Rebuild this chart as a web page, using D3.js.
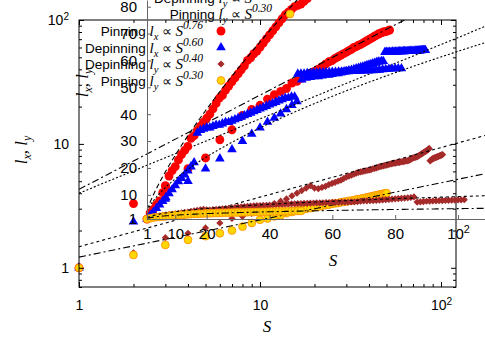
<!DOCTYPE html>
<html>
<head>
<meta charset="utf-8">
<script src="https://cdn.jsdelivr.net/npm/d3@7"></script>
<style>
body { margin: 0; background: #fff; }
svg { display: block; }
</style>
</head>
<body>
<svg width="485" height="339"></svg>
<script>
// avalanche size S runs 1, 2, 3, ... in every series
var pinLx = [1, 3.3, 4.6, 6.3, 7.7, 10.8, 13, 17, 19, 20.5,
             23, 25, 26.5, 28, 31, 32, 34, 35.5, 37, 38.5,
             40, 42, 44, 46, 47, 49, 50.5, 52, 53.5, 55,
             56.5, 58, 60, 61, 62.5, 63.5, 65, 66.5, 68, 69.5,
             71, 72.5, 74, 75.5, 77, 78, 79, 80, 80.5, 81,
             82, 83];
var depinLx = [1, 2.35, 3.6, 5, 6.3, 7.6, 9, 10.5, 12, 13.5,
               15, 16.2, 17.5, 19, 20.5, 22, 33, 34, 34.5, 35,
               35, 35.5, 36, 36, 36.5, 37, 37, 37.5, 38, 38.5,
               39, 39.5, 40, 40.5, 41, 41.5, 42, 42.5, 43, 43.5,
               44, 44.5, 45, 45.5, 46, 46, 46.5, 46.5, 55, 55,
               55, 55.2, 55.2, 55.4, 55.4, 55.5, 55.5, 55.6, 55.6, 55.7,
               55.7, 55.8, 55.8, 55.9, 55.9, 56, 56, 56.1, 56.1, 56.2,
               56.2, 56.3, 56.3, 56.4, 56.5, 56.6, 56.7, 56.8, 56.9, 57,
               57, 57];
var depinLy = [1, 1.32, 1.75, 1.9, 2.1, 2.3, 2.5, 2.6, 2.75, 2.9,
               3.1, 3.3, 3.45, 3.6, 3.8, 4.0, 4.2, 4.4, 4.6, 4.4,
               4.35, 4.45, 4.55, 4.7, 4.8, 4.9, 5.0, 5.1, 5.25, 5.4,
               5.5, 5.6, 5.7, 5.8, 5.9, 5.95, 6.0, 6.05, 6.1, 6.15,
               6.2, 6.3, 6.35, 6.4, 6.5, 6.55, 6.6, 6.65, 6.7, 6.75,
               6.8, 6.85, 6.9, 6.95, 7.0, 7.0, 7.05, 7.1, 7.1, 7.15,
               7.2, 7.2, 7.25, 7.3, 7.3, 7.35, 7.4, 7.5, 7.6, 7.7,
               7.75, 7.8, 7.85, 7.9, 8.0, 8.1, 8.2, 8.3, 8.4, 8.5,
               8.6, 8.7, 8.8, 8.9, 9.0, 9.2, 7.3, 7.4, 7.5, 7.6,
               7.65, 7.7, 7.75, 7.8, 7.85, 7.9, 7.95, 8.0, 8.05, 8.1,
               8.15, 8.2];
var pinLy = [1, 1.27, 1.53, 1.68, 1.8, 1.9, 2.0, 2.15, 2.3, 2.44,
             2.5, 2.6, 2.66, 2.76, 2.82, 2.9, 2.93, 2.99, 3.03, 3.08,
             3.11, 3.17, 3.2, 3.23, 3.29, 3.31, 3.33, 3.38, 3.41, 3.43,
             3.47, 3.49, 3.51, 3.56, 3.58, 3.6, 3.65, 3.66, 3.7, 3.74,
             3.76, 3.78, 3.83, 3.85, 3.87, 3.92, 3.93, 3.96, 3.98, 4.0];

// legend / fit info
var phases = ['Pinning', 'Depinning', 'Depinning', 'Pinning'];
var lengths = ['x', 'x', 'y', 'y'];
var exponents = [0.76, 0.60, 0.40, 0.30];
var prefactors = [4.3, 4.0, 1.48, 1.22];

// tick labels
var mainTicks = [1, 10, 100];
var insetXTicks = [1, 10, 20, 40, 60, 80, 100];
var insetYTicks = [1, 10, 20, 30, 40, 50, 60, 70, 80];

document.addEventListener('DOMContentLoaded', () => {
    var svg = d3.select('svg');
    var sans = 'Liberation Sans, Arial, sans-serif';
    var serif = 'Liberation Serif, Times New Roman, serif';

    var series = [
        {values: pinLx, fill: '#ff0000', stroke: 'none', sym: d3.symbolCircle, size: 62, rot: 0},
        {values: depinLx, fill: '#0000ff', stroke: 'none', sym: d3.symbolTriangle, size: 40, rot: 0},
        {values: depinLy, fill: '#a52a2a', stroke: 'none', sym: d3.symbolSquare, size: 26, rot: 45},
        {values: pinLy, fill: '#ffd700', stroke: '#ff8c00', sym: d3.symbolCircle, size: 48, rot: 0}
    ];
    var mainDash = ['7,3,2,3', '2,2', '3,3', '7,3,2,3'];
    var insetDash = ['5,3', '2,2', '3,3', '7,3,2,3'];

    var defs = svg.append('defs');
    defs.append('clipPath').attr('id', 'clipMain')
        .append('rect').attr('x', 79).attr('y', 20).attr('width', 406).attr('height', 267);
    defs.append('clipPath').attr('id', 'clipInset')
        .append('rect').attr('x', 147).attr('y', -20).attr('width', 338).attr('height', 239);

    function points(g, sx, sy) {
        series.forEach(s => {
            g.append('g').selectAll('path')
                .data(s.values)
                .enter()
                .append('path')
                    .attr('d', d3.symbol().type(s.sym).size(s.size))
                    .attr('transform', (d, i) => 'translate(' + sx(i + 1) + ',' + sy(d) + ') rotate(' + s.rot + ')')
                    .attr('fill', s.fill)
                    .attr('stroke', s.stroke)
                    .attr('stroke-width', 0.8)
        })
    }

    function legend(g, xEnd, y0) {
        exponents.forEach((e, i) => {
            var y = y0 + i * 16.5;
            var t = g.append('text')
                .attr('x', xEnd).attr('y', y + 5)
                .attr('text-anchor', 'end');
            t.append('tspan').attr('font-family', sans).attr('font-size', 13.5).text(phases[i] + ' ');
            t.append('tspan').attr('font-family', serif).attr('font-style', 'italic').attr('font-size', 15).text('l');
            t.append('tspan').attr('font-family', serif).attr('font-style', 'italic').attr('font-size', 10.5)
                .attr('dy', 4).text(lengths[i]);
            t.append('tspan').attr('font-family', serif).attr('font-size', 14).attr('dy', -4).text(' \u221D ');
            t.append('tspan').attr('font-family', serif).attr('font-style', 'italic').attr('font-size', 15).text('S');
            t.append('tspan').attr('font-family', serif).attr('font-style', 'italic').attr('font-size', 11.5)
                .attr('dy', -7).text(e.toFixed(2));
            var s = series[i];
            g.append('path')
                .attr('d', d3.symbol().type(s.sym).size(s.size))
                .attr('transform', 'translate(' + (xEnd + 18) + ',' + y + ') rotate(' + s.rot + ')')
                .attr('fill', s.fill)
                .attr('stroke', s.stroke)
                .attr('stroke-width', 0.8)
        })
    }

    function axisTitle(g, x, y, rotate) {
        var t = g.append('text')
            .attr('text-anchor', 'middle')
            .attr('font-family', serif).attr('font-style', 'italic').attr('font-size', 17)
            .attr('transform', 'translate(' + x + ',' + y + ')' + (rotate ? ' rotate(-90)' : ''));
        t.append('tspan').text('l');
        t.append('tspan').attr('font-size', 12).attr('dy', 4).text('x');
        t.append('tspan').attr('dy', -4).text(', l');
        t.append('tspan').attr('font-size', 12).attr('dy', 4).text('y');
    }

    function powerTen(sel) {
        sel.selectAll('.tick text')
            .filter(d => d === 100)
            .text('10')
            .append('tspan').attr('dy', '-0.5em').attr('font-size', '72%').text('2');
    }

    // ---------------- main log-log plot ----------------
    var xScale = d3.scaleLog().domain([1, 121]).range([79, 456]);
    var yScale = d3.scaleLog().domain([0.7, 100]).range([287, 20]);
    var xMinor = xScale.ticks().filter(d => mainTicks.indexOf(d) < 0);
    var yMinor = yScale.ticks().filter(d => mainTicks.indexOf(d) < 0);

    var main = svg.append('g');
    points(main, xScale, yScale);

    var fitS = [1, 2, 5, 10, 20, 50, 100, 200];
    var mainLine = d3.line().x(d => xScale(d[0])).y(d => yScale(d[1]));
    exponents.forEach((e, i) => {
        main.append('path')
            .attr('clip-path', 'url(#clipMain)')
            .attr('d', mainLine(fitS.map(s => [s, prefactors[i] * Math.pow(s, e)])))
            .attr('fill', 'none')
            .attr('stroke', '#000')
            .attr('stroke-width', 1.1)
            .attr('stroke-dasharray', mainDash[i])
    })

    legend(main, 203, 31);

    // frame and ticks
    main.append('rect')
        .attr('x', 79).attr('y', 20).attr('width', 377).attr('height', 267)
        .attr('fill', 'none').attr('stroke', '#000').attr('stroke-width', 1);

    var xAxis = d3.axisBottom(xScale).tickValues(mainTicks).tickSize(-5).tickSizeOuter(0).tickPadding(13)
        .tickFormat(d3.format('d'));
    var gx = main.append('g').attr('transform', 'translate(0,287)').call(xAxis);
    powerTen(gx);
    main.append('g').attr('transform', 'translate(0,287)')
        .call(d3.axisBottom(xScale).tickValues(xMinor).tickSize(-3).tickSizeOuter(0).tickFormat(''));
    main.append('g').attr('transform', 'translate(0,20)')
        .call(d3.axisTop(xScale).tickValues(mainTicks).tickSize(-5).tickSizeOuter(0).tickFormat(''));
    main.append('g').attr('transform', 'translate(0,20)')
        .call(d3.axisTop(xScale).tickValues(xMinor).tickSize(-3).tickSizeOuter(0).tickFormat(''));

    var yAxis = d3.axisLeft(yScale).tickValues(mainTicks).tickSize(-5).tickSizeOuter(0).tickPadding(10)
        .tickFormat(d3.format('d'));
    var gy = main.append('g').attr('transform', 'translate(79,0)').call(yAxis);
    powerTen(gy);
    main.append('g').attr('transform', 'translate(79,0)')
        .call(d3.axisLeft(yScale).tickValues(yMinor).tickSize(-3).tickSizeOuter(0).tickFormat(''));
    main.append('g').attr('transform', 'translate(456,0)')
        .call(d3.axisRight(yScale).tickValues(mainTicks).tickSize(-5).tickSizeOuter(0).tickFormat(''));
    main.append('g').attr('transform', 'translate(456,0)')
        .call(d3.axisRight(yScale).tickValues(yMinor).tickSize(-3).tickSizeOuter(0).tickFormat(''));

    main.selectAll('.domain').remove();
    main.selectAll('.tick text').attr('font-family', sans).attr('font-size', 14).attr('fill', '#000');
    main.selectAll('.tick line').attr('stroke', '#000');

    main.append('text')
        .text('S')
        .attr('x', 267).attr('y', 332)
        .attr('text-anchor', 'middle')
        .attr('font-family', serif).attr('font-style', 'italic').attr('font-size', 17);
    axisTitle(main, 27, 150, true);

    // ---------------- linear inset ----------------
    var inX = d3.scaleLinear().domain([1, 108.6]).range([147, 485]);
    var inY = d3.scaleLinear().domain([1, 82.5]).range([219, 0]);

    var inset = svg.append('g');
    points(inset, inX, inY);

    var curveS = d3.range(1, 110.5, 0.5);
    var insetLine = d3.line().x(d => inX(d[0])).y(d => inY(d[1]));
    exponents.forEach((e, i) => {
        inset.append('path')
            .attr('clip-path', 'url(#clipInset)')
            .attr('d', insetLine(curveS.map(s => [s, prefactors[i] * Math.pow(s, e)])))
            .attr('fill', 'none')
            .attr('stroke', '#000')
            .attr('stroke-width', 1.1)
            .attr('stroke-dasharray', insetDash[i])
    })

    legend(inset, 272, -35.5);

    var ix = inset.append('g').attr('transform', 'translate(0,219)')
        .call(d3.axisBottom(inX).tickValues(insetXTicks).tickSize(-4).tickSizeOuter(0).tickPadding(9));
    powerTen(ix);
    inset.append('g').attr('transform', 'translate(147,0)')
        .call(d3.axisLeft(inY).tickValues(insetYTicks).tickSize(-4).tickSizeOuter(0).tickPadding(10));

    inset.selectAll('.domain').attr('stroke', '#666');
    inset.selectAll('.tick line').attr('stroke', '#666');
    inset.selectAll('.tick text').attr('font-family', sans).attr('font-size', 15).attr('fill', '#000');

    inset.append('text')
        .text('S')
        .attr('x', 333).attr('y', 266)
        .attr('text-anchor', 'middle')
        .attr('font-family', serif).attr('font-style', 'italic').attr('font-size', 17);
    axisTitle(inset, 88, 83, true);
})
</script>
</body>
</html>
